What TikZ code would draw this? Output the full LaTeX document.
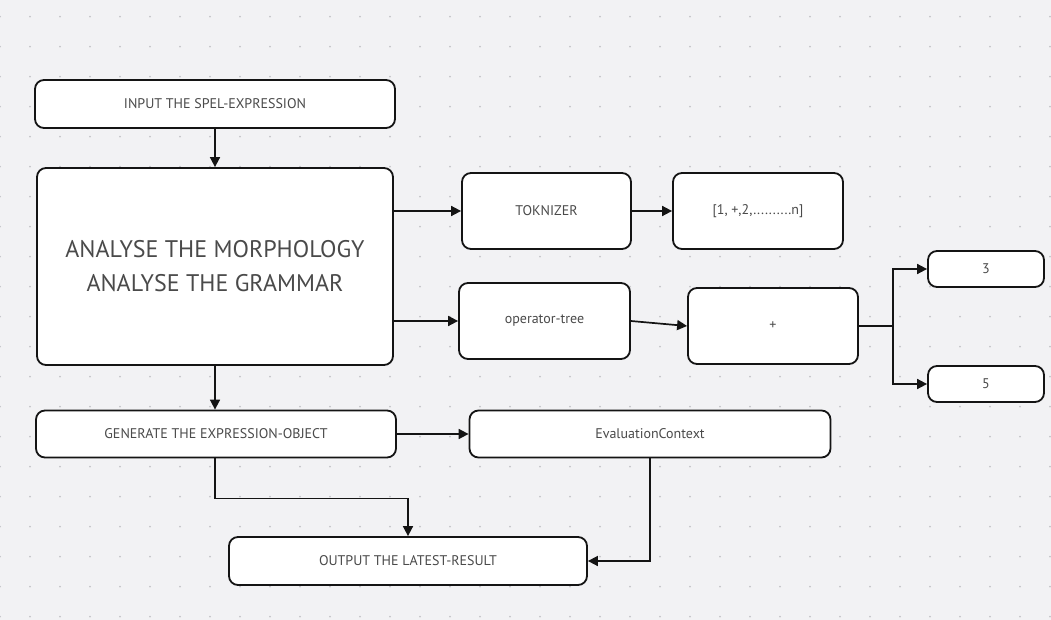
\documentclass[tikz,border=0pt]{standalone}
\usepackage{fontspec}
\setmainfont{PT Sans}
\usetikzlibrary{arrows.meta}
\definecolor{bgc}{HTML}{F2F2F4}
\definecolor{dotc}{HTML}{C4C4C8}
\definecolor{txtc}{HTML}{4A4A4A}
\definecolor{linec}{HTML}{141414}
\tikzset{
  box/.style={draw=linec, line width=1.8pt, rounded corners=9pt, fill=white,
    inner sep=0pt, text=txtc, font=\fontsize{14}{16}\selectfont, align=center},
  conn/.style={draw=linec, line width=1.7pt, -{Triangle[length=10pt,width=10pt]}},
  plainconn/.style={draw=linec, line width=1.7pt},
}
\begin{document}
\begin{tikzpicture}[x=1pt,y=-1pt]
\fill[bgc] (0,0) rectangle (1051,620);
\useasboundingbox (0,0) rectangle (1051,620);
\foreach \i in {0,...,35}{
  \foreach \j in {0,...,20}{
    \fill[dotc] (30*\i,16.7+30*\j) circle (1pt);
  }
}
\node[box, minimum width=360pt, minimum height=48pt] (in) at (215,104) {INPUT THE SPEL-EXPRESSION};
\node[box, minimum width=356pt, minimum height=197pt, font=\fontsize{24}{34}\selectfont] (ana) at (215,266.5) {ANALYSE THE MORPHOLOGY\\ANALYSE THE GRAMMAR};
\node[box, minimum width=169pt, minimum height=76pt] (tok) at (546.5,211) {TOKNIZER};
\node[box, minimum width=170pt, minimum height=76pt] (list) at (758,211) {[1, +,2,..........n]};
\node[box, minimum width=171pt, minimum height=76pt] (op) at (544.5,321) {operator-tree};
\node[box, minimum width=170pt, minimum height=76pt] (plus) at (773,326) {+};
\node[box, minimum width=116pt, minimum height=36pt] (three) at (986,269) {3};
\node[box, minimum width=116pt, minimum height=36pt] (five) at (986,384) {5};
\node[box, minimum width=360pt, minimum height=47pt] (gen) at (216,434) {GENERATE THE EXPRESSION-OBJECT};
\node[box, minimum width=361pt, minimum height=47pt] (eval) at (650,434) {EvaluationContext};
\node[box, minimum width=358pt, minimum height=48pt] (out) at (408,561) {OUTPUT THE LATEST-RESULT};

\draw[conn] (in.south) -- (ana.north);
\draw[conn] (ana.east |- tok.west) -- (tok.west);
\draw[conn] (ana.east |- op.west) -- (op.west);
\draw[conn] (tok.east) -- (list.west);
\draw[conn] (op.east) -- (plus.west);
\coordinate (br) at (893,326);
\draw[plainconn] (plus.east) -- (br);
\draw[conn] (br) |- (three.west);
\draw[conn] (br) |- (five.west);
\draw[conn] (ana.south) -- (ana.south |- gen.north);
\draw[conn] (gen.east) -- (eval.west);
\draw[conn] (gen.south -| ana.south) -- ++(0,40) -| (out.north);
\draw[conn] (eval.south) |- (out.east);
\end{tikzpicture}
\end{document}
